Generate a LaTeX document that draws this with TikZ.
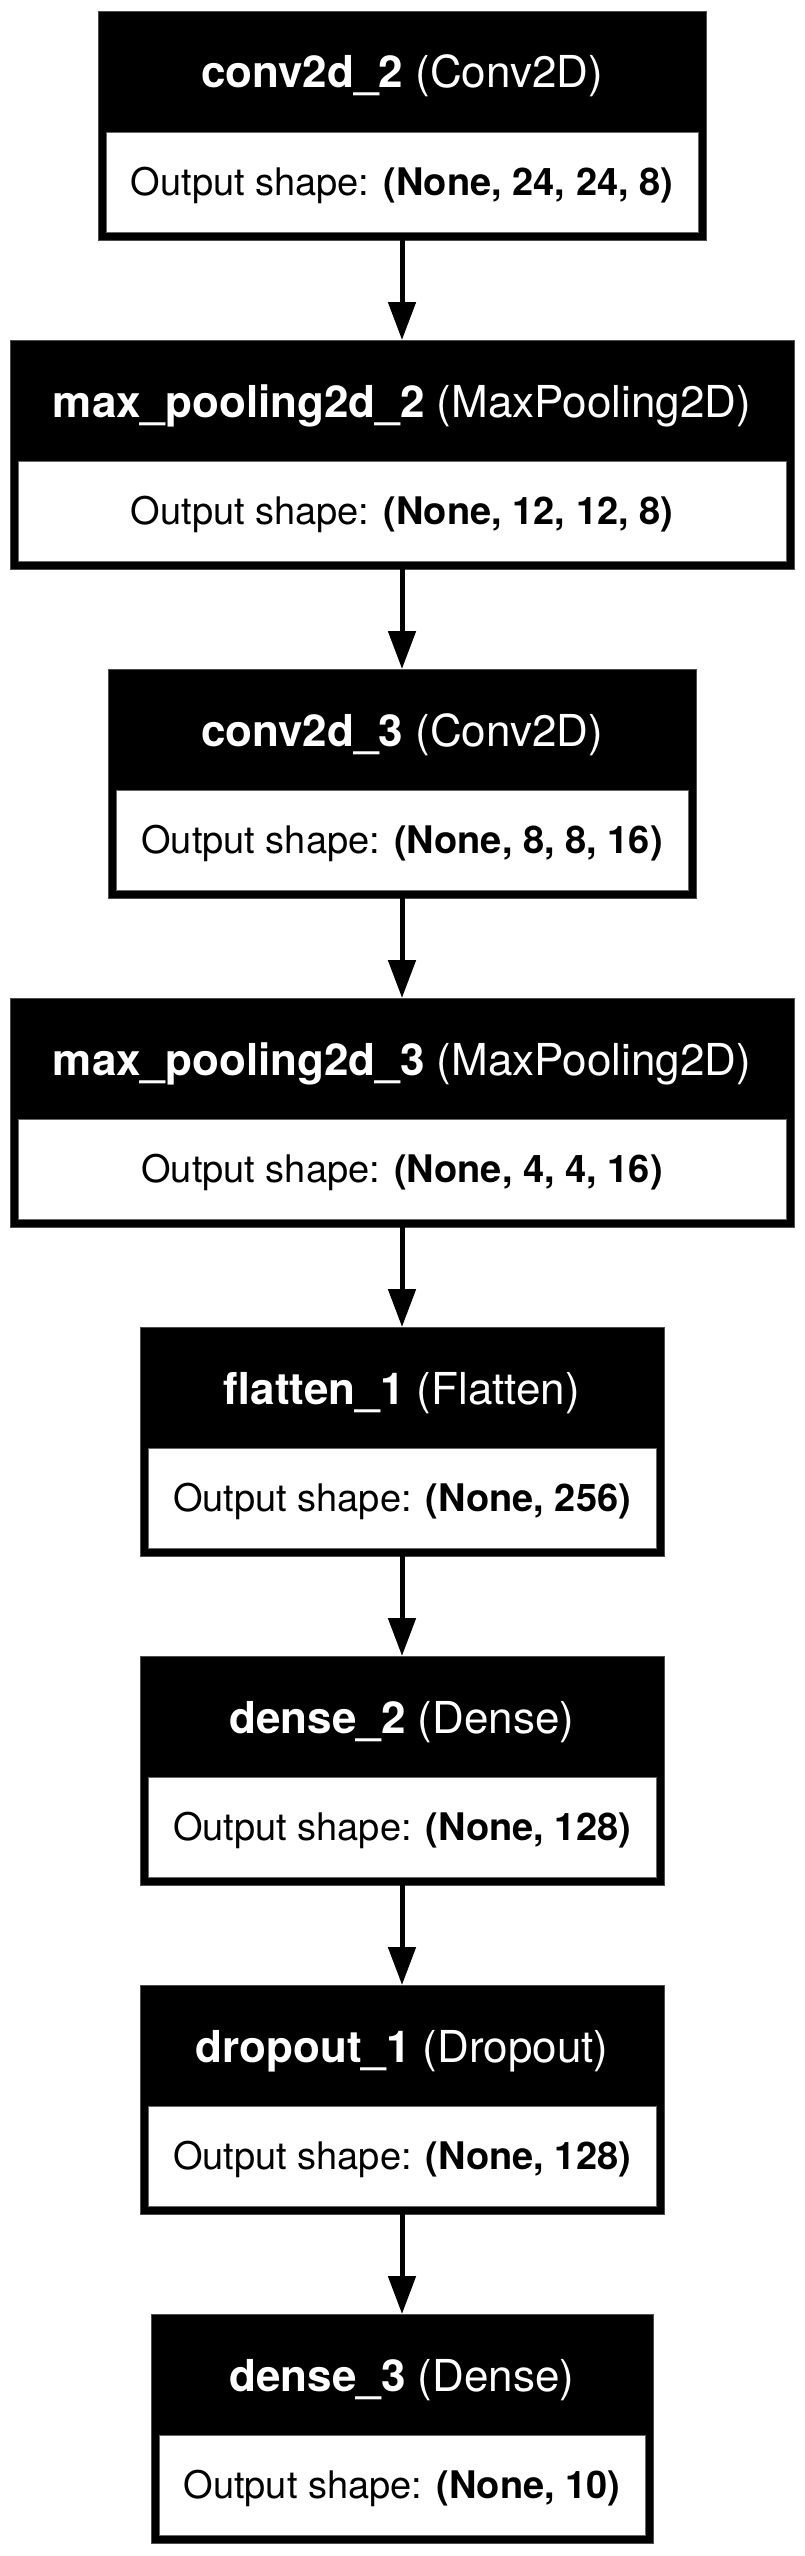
\documentclass[tikz,border=0pt]{standalone}
\usepackage{fontspec}
\setmainfont{TeX Gyre Heros}
\usetikzlibrary{arrows.meta}
\tikzset{
  outerbox/.style={rectangle, fill=black, draw=black!70, line width=0.8pt, inner sep=0pt, outer sep=0pt, minimum height=229pt},
  cellbox/.style={rectangle, fill=white, draw=black!60, line width=0.5pt, inner sep=0pt, outer sep=0pt, minimum height=100pt},
  headtxt/.style={anchor=base, text=white, inner sep=0pt, font=\fontsize{44}{52}\selectfont},
  bodytxt/.style={anchor=base, text=black, inner sep=0pt, font=\fontsize{38}{46}\selectfont},
  conn/.style={line width=5pt, -{Triangle[length=38pt, width=27pt]}}
}
% #1 name, #2 top y, #3 left x, #4 header text, #5 output text
\newcommand\kerlayer[5]{%
  \node[outerbox, minimum width={804pt-2*#3pt}] (#1) at (402, #2+114.5) {};
  \node[cellbox, minimum width={804pt-2*#3pt-16pt}] (#1c) at (402, #2+171) {};
  \node[headtxt] (#1h) at (402, #2+77) {#4};
  \node[bodytxt] (#1t) at (402, #2+184) {Output shape: \textbf{#5}};
}
\begin{document}
\begin{tikzpicture}[x=1pt, y=-1pt]
\useasboundingbox (0,0) rectangle (805,2556);
\kerlayer{L1}{11}{98}{\textbf{conv2d\_2} (Conv2D)}{(None, 24, 24, 8)}
\kerlayer{L2}{340}{10}{\textbf{max\_pooling2d\_2} (MaxPooling2D)}{(None, 12, 12, 8)}
\kerlayer{L3}{669}{108}{\textbf{conv2d\_3} (Conv2D)}{(None, 8, 8, 16)}
\kerlayer{L4}{998}{10}{\textbf{max\_pooling2d\_3} (MaxPooling2D)}{(None, 4, 4, 16)}
\kerlayer{L5}{1327}{140}{\textbf{flatten\_1} (Flatten)}{(None, 256)}
\kerlayer{L6}{1656}{140}{\textbf{dense\_2} (Dense)}{(None, 128)}
\kerlayer{L7}{1985}{140}{\textbf{dropout\_1} (Dropout)}{(None, 128)}
\kerlayer{L8}{2314}{151}{\textbf{dense\_3} (Dense)}{(None, 10)}
\draw[conn] (L1.south) -- (L2.north);
\draw[conn] (L2.south) -- (L3.north);
\draw[conn] (L3.south) -- (L4.north);
\draw[conn] (L4.south) -- (L5.north);
\draw[conn] (L5.south) -- (L6.north);
\draw[conn] (L6.south) -- (L7.north);
\draw[conn] (L7.south) -- (L8.north);
\end{tikzpicture}
\end{document}
